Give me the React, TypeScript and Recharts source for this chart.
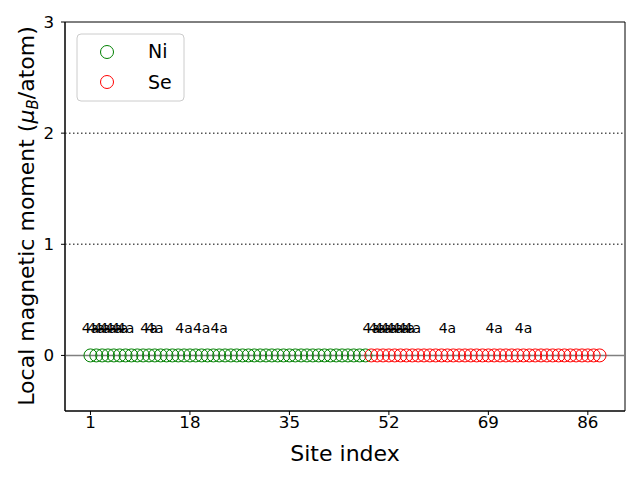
import {
  ScatterChart,
  Scatter,
  XAxis,
  YAxis,
  ReferenceLine,
  ReferenceArea,
} from 'recharts';

// local moments (all sites sit on zero)
const NI_MOMENTS = [
  0, 0, 0, 0, 0, 0, 0, 0, 0, 0, 0, 0, 0, 0, 0, 0,
  0, 0, 0, 0, 0, 0, 0, 0, 0, 0, 0, 0, 0, 0, 0, 0,
  0, 0, 0, 0, 0, 0, 0, 0, 0, 0, 0, 0, 0, 0, 0, 0,
];
const SE_MOMENTS = [
  0, 0, 0, 0, 0, 0, 0, 0, 0, 0, 0, 0, 0, 0, 0, 0, 0, 0, 0, 0,
  0, 0, 0, 0, 0, 0, 0, 0, 0, 0, 0, 0, 0, 0, 0, 0, 0, 0, 0, 0,
];

// sites carrying a Wyckoff annotation
const LABEL_SITES = [1, 2, 3, 4, 5, 6, 7, 11, 12, 17, 20, 23, 49, 50, 51, 52, 53, 54, 55, 56, 62, 70, 75];
const LABEL_TEXT = '4a';
const LABEL_Y = 0.2;

const SITE_TICKS = [1, 18, 35, 52, 69, 86];
const MOMENT_TICKS = [0, 1, 2, 3];
const X_DOMAIN: [number, number] = [-3.35, 92.35];
const Y_DOMAIN: [number, number] = [-0.5, 3];

const FONT = '"DejaVu Sans", sans-serif';

const niData = NI_MOMENTS.map((m, i) => ({ site: i + 1, moment: m }));
const seData = SE_MOMENTS.map((m, i) => ({ site: NI_MOMENTS.length + i + 1, moment: m }));
const labelData = LABEL_SITES.map((s) => ({ site: s, moment: LABEL_Y, text: LABEL_TEXT }));

const ring = (color: string) => (props: any) => (
  <circle cx={props.cx} cy={props.cy} r={6.5} fill="none" stroke={color} strokeWidth={1} />
);

const labelShape = (props: any) => (
  <text
    x={props.cx}
    y={props.cy}
    textAnchor="middle"
    fontSize={14}
    fontFamily={FONT}
    fill="#000"
  >
    {props.payload?.text ?? LABEL_TEXT}
  </text>
);

export default function App() {
  return (
    <div style={{ position: 'absolute', left: 0, top: 0, width: 640, height: 480, background: '#fff' }}>
      <ScatterChart width={640} height={480} margin={{ top: 22, right: 15, bottom: 0, left: 0 }}>
        <XAxis
          type="number"
          dataKey="site"
          domain={X_DOMAIN}
          ticks={SITE_TICKS}
          allowDataOverflow
          height={69}
          tickSize={4}
          tickMargin={1}
          stroke="#000"
          tick={{ fill: '#000', fontSize: 16.7, fontFamily: FONT }}
          tickLine={{ stroke: '#000' }}
        />
        <YAxis
          type="number"
          dataKey="moment"
          domain={Y_DOMAIN}
          ticks={MOMENT_TICKS}
          allowDataOverflow
          width={65}
          tickSize={4}
          tickMargin={7}
          stroke="#000"
          tick={{ fill: '#000', fontSize: 16.7, fontFamily: FONT }}
          tickLine={{ stroke: '#000' }}
        />
        <ReferenceLine y={0} stroke="#808080" strokeWidth={1.5} />
        <ReferenceLine y={1} stroke="#555" strokeWidth={1.5} strokeDasharray="1.5 2.5" />
        <ReferenceLine y={2} stroke="#555" strokeWidth={1.5} strokeDasharray="1.5 2.5" />
        <Scatter data={niData} shape={ring('green')} isAnimationActive={false} />
        <Scatter data={seData} shape={ring('red')} isAnimationActive={false} />
        <Scatter data={labelData} shape={labelShape} isAnimationActive={false} />
        <ReferenceArea
          x1={X_DOMAIN[0]}
          x2={X_DOMAIN[1]}
          y1={Y_DOMAIN[0]}
          y2={Y_DOMAIN[1]}
          fill="none"
          fillOpacity={0}
          stroke="#000"
          strokeWidth={1}
          ifOverflow="visible"
        />
      </ScatterChart>
      <svg
        width={640}
        height={480}
        style={{ position: 'absolute', left: 0, top: 0, pointerEvents: 'none' }}
        fontFamily={FONT}
      >
        <text x={345} y={461} textAnchor="middle" fontSize={22}>
          Site index
        </text>
        <text x={34} y={216} textAnchor="middle" fontSize={22} transform="rotate(-90 34 216)">
          Local magnetic moment (
          <tspan fontStyle="italic">μ</tspan>
          <tspan fontStyle="italic" fontSize={15} dy={4}>B</tspan>
          <tspan dy={-4}>/atom)</tspan>
        </text>
        <rect x={77} y={34} width={107} height={67} rx={4} fill="#fff" fillOpacity={0.8} stroke="#ccc" />
        <circle cx={107} cy={52} r={6.5} fill="none" stroke="green" />
        <text x={148} y={58} fontSize={19}>Ni</text>
        <circle cx={107} cy={82} r={6.5} fill="none" stroke="red" />
        <text x={148} y={88.5} fontSize={19}>Se</text>
      </svg>
    </div>
  );
}
